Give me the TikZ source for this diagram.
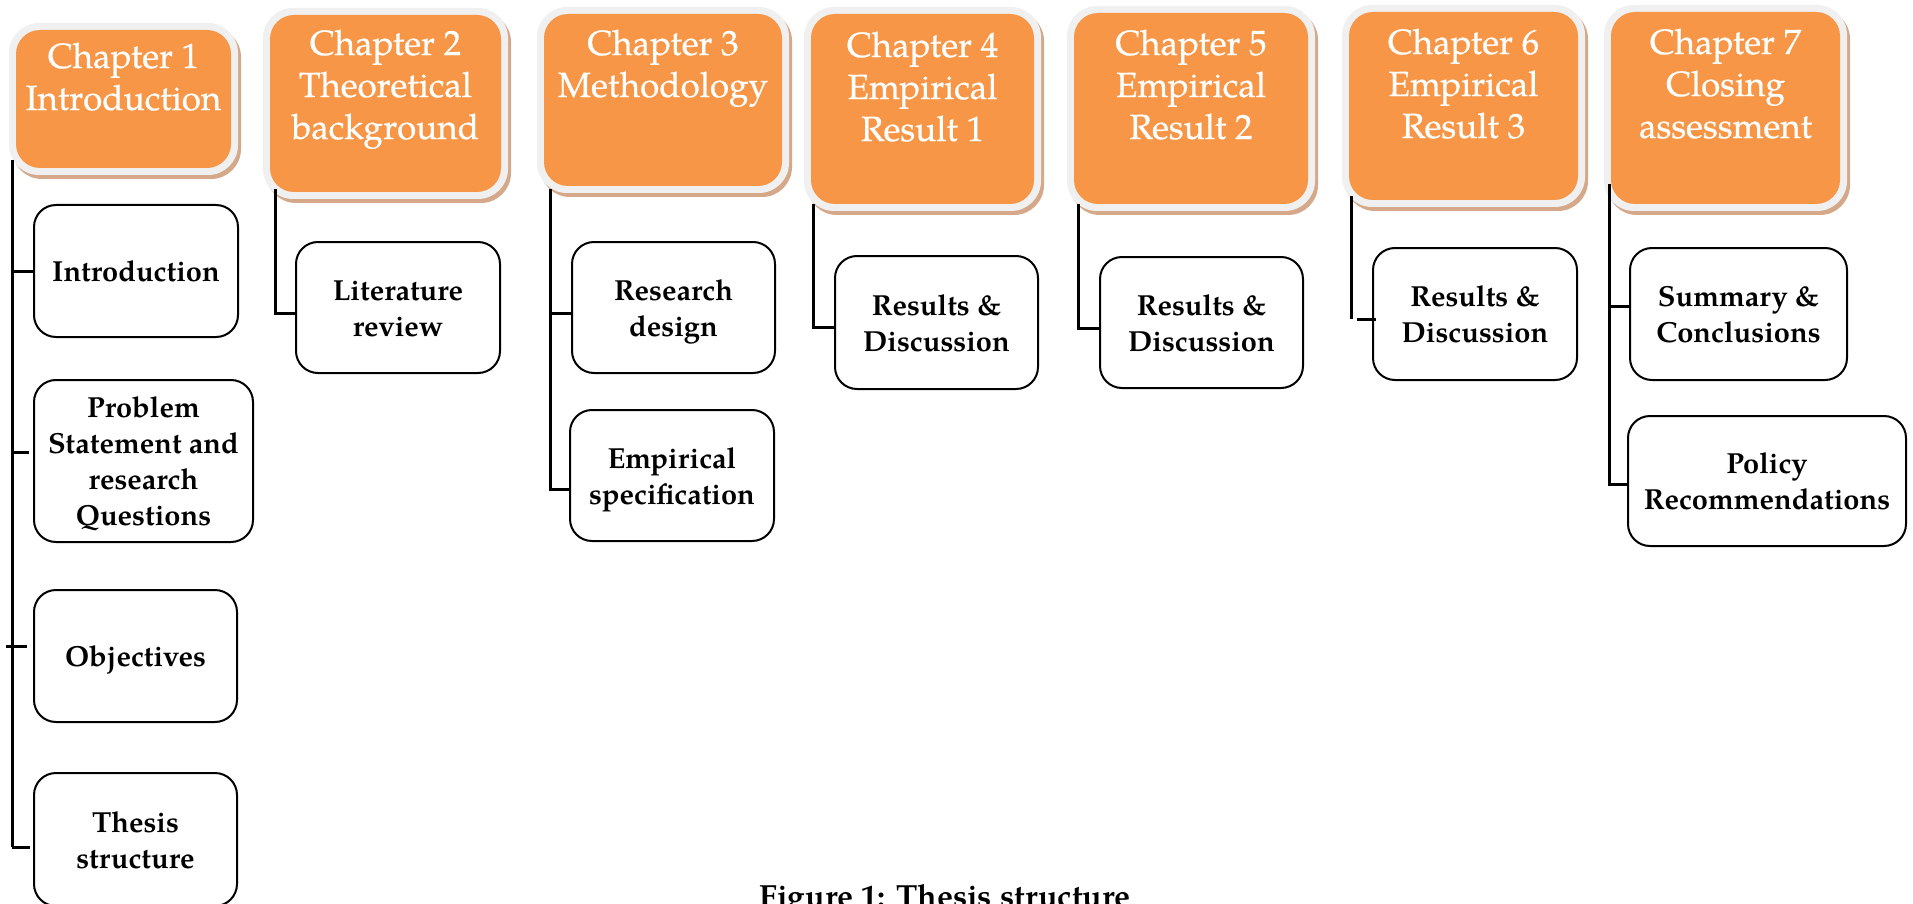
\documentclass[tikz,border=0pt]{standalone}
\usepackage{fontspec}
\setmainfont{texgyrepagella}[Extension=.otf, UprightFont=*-regular, BoldFont=*-bold, ItalicFont=*-italic, BoldItalicFont=*-bolditalic]
\newfontfamily\headfont{texgyrepagella}[Extension=.otf, UprightFont=*-regular, FakeBold=0.6]
\usetikzlibrary{shadows,calc}
\definecolor{chorange}{HTML}{F79646}
\definecolor{halogray}{HTML}{F0F0F0}
\definecolor{shadowtan}{HTML}{D4A888}
\newcommand{\chapbox}[4]{\parbox[c][#2][t]{#1}{\centering\rule{0pt}{#3}#4\par}}
\newcommand{\subtxt}[1]{\raisebox{-1.75pt}[\height][\depth]{\begin{tabular}{@{}c@{}}#1\end{tabular}}}
\tikzset{
  chap/.style={inner sep=0pt, fill=halogray, rounded corners=15pt, text=white,
    font=\headfont\fontsize{17.5}{21}\selectfont,
    drop shadow={shadow xshift=1.5pt, shadow yshift=-2pt, fill=shadowtan, opacity=1},
    path picture={\fill[chorange, rounded corners=12pt]
      ([shift={(3.5pt,3.5pt)}]path picture bounding box.south west) rectangle
      ([shift={(-3.5pt,-3.5pt)}]path picture bounding box.north east);}},
  sub/.style={draw=black, line width=1pt, rounded corners=11pt, fill=white,
    inner sep=2pt, font=\fontsize{14.5}{18}\selectfont\bfseries},
  conn/.style={line width=1.5pt, black},
}
\begin{document}
\begin{tikzpicture}[x=0.5pt, y=-0.5pt]
\useasboundingbox (0,0) rectangle (1913,904);
% chapter headers
\node[chap] (c1) at (123.5,99)   {\chapbox{114.5pt}{76pt}{22.5pt}{Chapter 1\\Introduction}};
\node[chap] (c2) at (385.5,103.5){\chapbox{122.5pt}{95.5pt}{23.5pt}{Chapter 2\\Theoretical\\background}};
\node[chap] (c3) at (663,100)    {\chapbox{126pt}{93pt}{24pt}{Chapter 3\\Methodology}};
\node[chap] (c4) at (922.5,109)  {\chapbox{118.5pt}{102pt}{25pt}{Chapter 4\\Empirical\\Result 1}};
\node[chap] (c5) at (1191,108.5) {\chapbox{124pt}{102.5pt}{24.5pt}{Chapter 5\\Empirical\\Result 2}};
\node[chap] (c6) at (1463.5,106) {\chapbox{121.5pt}{101pt}{24.5pt}{Chapter 6\\Empirical\\Result 3}};
\node[chap] (c7) at (1725.5,108) {\chapbox{121.5pt}{103pt}{24.5pt}{Chapter 7\\Closing\\assessment}};
% sub boxes
\node[sub, minimum width=102pt, minimum height=66pt]     (i1) at (136,271)     {\subtxt{Introduction}};
\node[sub, minimum width=109.5pt, minimum height=81pt]   (i2) at (143.5,461)   {\subtxt{Problem\\Statement and\\research\\Questions}};
\node[sub, minimum width=101.5pt, minimum height=66pt]   (i3) at (135.5,656)   {\subtxt{Objectives}};
\node[sub, minimum width=101.5pt, minimum height=66.5pt] (i4) at (135.5,839.5) {\subtxt{Thesis\\structure}};
\node[sub, minimum width=102pt, minimum height=65.5pt]   (l1) at (398,307.5)   {\subtxt{Literature\\review}};
\node[sub, minimum width=101.5pt, minimum height=65.5pt] (m1) at (673.5,307.5) {\subtxt{Research\\design}};
\node[sub, minimum width=102pt, minimum height=65.5pt]   (m2) at (672,475.5)   {\subtxt{Empirical\\specification}};
\node[sub, minimum width=101.5pt, minimum height=66.5pt] (r4) at (936.5,322.5) {\subtxt{Results \&\\Discussion}};
\node[sub, minimum width=101.5pt, minimum height=65.5pt] (r5) at (1201.5,322.5){\subtxt{Results \&\\Discussion}};
\node[sub, minimum width=102pt, minimum height=66pt]     (r6) at (1475,314)    {\subtxt{Results \&\\Discussion}};
\node[sub, minimum width=108.5pt, minimum height=66pt]   (s1) at (1738.5,314)  {\subtxt{Summary \&\\Conclusions}};
\node[sub, minimum width=139pt, minimum height=65pt]     (s2) at (1767,481)    {\subtxt{Policy\\Recommendations}};
% connectors
\coordinate (a1) at (12,160);
\coordinate (a2) at (12,847);
\draw[conn] (a1) -- (a2);
\draw[conn] (a1 |- i1.west) -- (i1.west);
\draw[conn] ($(i2.west)+(-21,-9)$) -- ($(i2.west)+(-4,-9)$);
\draw[conn] ($(i3.west)+(-27,-10)$) -- ($(i3.west)+(-6,-10)$);
\draw[conn] (a2) -- ($(i4.west)+(-3,7.5)$);
\coordinate (b0) at (275,189);
\draw[conn] (b0) |- ($(l1.west)+(0,5.5)$);
\coordinate (m0) at (550,189);
\draw[conn] (m0) |- ($(m2.west)+(0,13.5)$);
\coordinate (m3) at ($(m1.west)+(0,5.5)$);
\draw[conn] (m0 |- m3) -- (m3);
\coordinate (d0) at (813,204);
\draw[conn] (d0) |- ($(r4.west)+(0,4.5)$);
\coordinate (f0) at (1078,204);
\draw[conn] (f0) |- ($(r5.west)+(0,5.5)$);
\coordinate (e0) at (1351,196);
\coordinate (e1) at ($(r6.west)+(0,5)$);
\draw[conn] (e0) -- (e0 |- e1);
\draw[conn] ($(e1)+(-15,0)$) -- ($(e1)+(4,0)$);
\coordinate (g0) at (1609,184);
\draw[conn] (g0) |- ($(s2.west)+(0,3)$);
\coordinate (g1) at ($(s1.west)+(0,-8)$);
\draw[conn] (g0 |- g1) -- (g1);
% caption
\node[font=\fontsize{16}{19}\selectfont\bfseries, anchor=base] (cap) at (945,907) {Figure 1: Thesis structure};
\end{tikzpicture}
\end{document}
